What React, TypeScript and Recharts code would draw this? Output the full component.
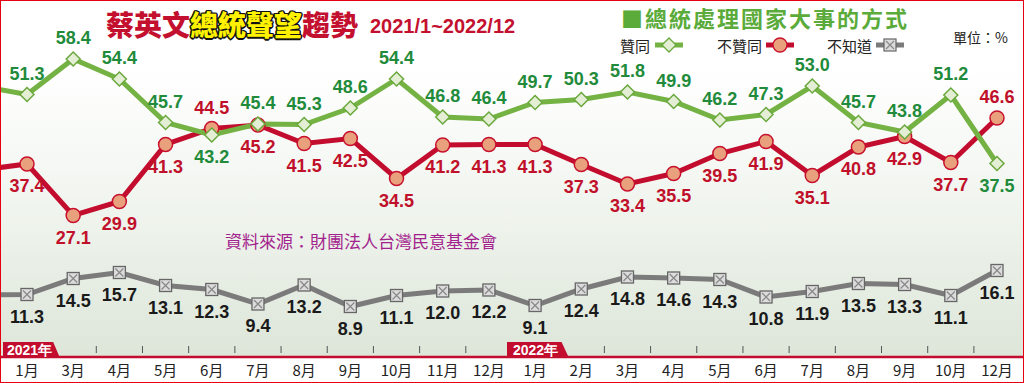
import React from 'react';
import { LineChart, Line, XAxis, YAxis, ReferenceLine } from 'recharts';

const months = ['1月', '3月', '4月', '5月', '6月', '7月', '8月', '9月', '10月', '11月', '12月', '1月', '2月', '3月', '4月', '5月', '6月', '7月', '8月', '9月', '10月', '12月'];
const approve = [51.3, 58.4, 54.4, 45.7, 43.2, 45.4, 45.3, 48.6, 54.4, 46.8, 46.4, 49.7, 50.3, 51.8, 49.9, 46.2, 47.3, 53.0, 45.7, 43.8, 51.2, 37.5];
const disapprove = [37.4, 27.1, 29.9, 41.3, 44.5, 45.2, 41.5, 42.5, 34.5, 41.2, 41.3, 41.3, 37.3, 33.4, 35.5, 39.5, 41.9, 35.1, 40.8, 42.9, 37.7, 46.6];
const unknown = [11.3, 14.5, 15.7, 13.1, 12.3, 9.4, 13.2, 8.9, 11.1, 12.0, 12.2, 9.1, 12.4, 14.8, 14.6, 14.3, 10.8, 11.9, 13.5, 13.3, 11.1, 16.1];
// previous month (off the left edge), only the line stub shows
const prevPoint = { approve: 53.0, disapprove: 36.2, unknown: 11.2 };

const data = [
  { i: -1, ...prevPoint },
  ...months.map((m, i) => ({ i, month: m, approve: approve[i], disapprove: disapprove[i], unknown: unknown[i] })),
];

const GREEN = '#74b243';
const RED = '#c30d2e';
const GRAY = '#7b7b7b';
const LABEL_FONT = '"Liberation Sans Narrow", "Liberation Sans", Arial, sans-serif';
const CJK = '"Noto Sans CJK TC", "Noto Sans CJK SC", sans-serif';

const Diamond = (p: any) => {
  if (p.payload?.i < 0) return <g key={p.key} />;
  const { cx, cy } = p;
  return (
    <polygon key={p.key} points={`${cx},${cy - 7} ${cx + 7},${cy} ${cx},${cy + 7} ${cx - 7},${cy}`}
      fill="#e3eed5" stroke="#6aa83c" strokeWidth={1.5} />
  );
};

const Circle = (p: any) => {
  if (p.payload?.i < 0) return <g key={p.key} />;
  return <circle key={p.key} cx={p.cx} cy={p.cy} r={7} fill="#e9a07c" stroke="#c8102e" strokeWidth={1.5} />;
};

const BoxX = (p: any) => {
  if (p.payload?.i < 0) return <g key={p.key} />;
  const { cx, cy } = p;
  return (
    <g key={p.key}>
      <rect x={cx - 6} y={cy - 6} width={12} height={12} fill="#dcdcdc" stroke="#666" strokeWidth={1.3} />
      <path d={`M${cx - 4},${cy - 4}L${cx + 4},${cy + 4}M${cx + 4},${cy - 4}L${cx - 4},${cy + 4}`} stroke="#888" strokeWidth={1.2} />
    </g>
  );
};

function makeLabel(color: string, isAbove: (i: number) => boolean) {
  return (p: any) => {
    const i = p.index - 1;
    if (i < 0) return null;
    const up = isAbove(i);
    return (
      <text key={`l${p.index}`} x={p.x} y={up ? p.y - 15 : p.y + 28} textAnchor="middle" fill={color}
        fontFamily={LABEL_FONT} fontWeight={700} fontSize={18}>
        {Number(p.value).toFixed(1)}
      </text>
    );
  };
}

const tagStyle: React.CSSProperties = {
  position: 'absolute', top: 342, height: 16, background: RED, color: '#fff',
  fontFamily: '"Liberation Sans", Arial, sans-serif', fontWeight: 700, fontSize: 14, lineHeight: '16px',
  boxSizing: 'border-box', whiteSpace: 'nowrap',
};

export default function App() {
  const midTicks = months.slice(1).map((_, i) => i + 0.5);
  return (
    <div style={{ position: 'relative', width: 1024, height: 383, overflow: 'hidden', background: '#fff' }}>
      <style>{'body{margin:0}'}</style>
      <div style={{ position: 'absolute', left: 0, top: 0, width: 1024, height: 357, background: 'linear-gradient(to bottom, #ffffff 0px, #ffffff 70px, #f1f5ef 200px, #dde6d9 357px)' }} />

      <div style={{ position: 'absolute', left: 0, top: 0 }}>
        <LineChart width={1024} height={383} data={data} margin={{ top: 1, right: 1, left: 1, bottom: 0 }}>
          <XAxis dataKey="i" type="number" domain={[-0.563, 21.563]} allowDataOverflow
            ticks={months.map((_, i) => i)} tickFormatter={(v: number) => months[v] ?? ''}
            interval={0} height={26} tickLine={false} tickSize={6} tickMargin={2}
            axisLine={{ stroke: RED, strokeWidth: 2.5 }}
            tick={{ fill: '#222', fontSize: 15, fontFamily: CJK }} />
          <YAxis hide domain={[-1.2, 70]} allowDataOverflow />
          {midTicks.map((x) => (
            <ReferenceLine key={x} segment={[{ x, y: -0.4 }, { x, y: 1.0 }]} stroke="#555" strokeWidth={1} />
          ))}
          <Line dataKey="unknown" stroke={GRAY} strokeWidth={5} isAnimationActive={false} dot={BoxX}
            activeDot={false} label={makeLabel('#1a1a1a', () => false)} />
          <Line dataKey="disapprove" stroke={RED} strokeWidth={5} isAnimationActive={false} dot={Circle}
            activeDot={false} label={makeLabel('#c0102a', (i) => disapprove[i] > approve[i])} />
          <Line dataKey="approve" stroke={GREEN} strokeWidth={5} isAnimationActive={false} dot={Diamond}
            activeDot={false} label={makeLabel('#1f8b3b', (i) => approve[i] >= disapprove[i])} />
        </LineChart>
      </div>

      {/* year tags */}
      <div style={{ ...tagStyle, left: 3, width: 57, paddingLeft: 4, clipPath: 'polygon(0 0, 88% 0, 100% 100%, 0 100%)' }}>2021年</div>
      <div style={{ ...tagStyle, left: 507, width: 62, paddingLeft: 6, clipPath: 'polygon(0 0, 88% 0, 100% 100%, 0 100%)' }}>2022年</div>

      {/* title */}
      <div style={{ position: 'absolute', left: 106, top: 6, fontFamily: CJK, fontWeight: 900, fontSize: 28, lineHeight: '36px', whiteSpace: 'nowrap', color: '#c4102f' }}>
        蔡英文<span style={{ color: '#fff200', textShadow: '-1px -1px 0 #111, 1px -1px 0 #111, -1px 1px 0 #111, 1px 1px 0 #111, 0 1.5px 0 #111, 0 -1.5px 0 #111, 1.5px 0 0 #111, -1.5px 0 0 #111' }}>總統聲望</span>趨勢
      </div>
      <div style={{ position: 'absolute', left: 370, top: 15, fontFamily: '"Liberation Sans", Arial, sans-serif', fontWeight: 700, fontSize: 20, color: '#c4102f', whiteSpace: 'nowrap' }}>2021/1~2022/12</div>

      <div style={{ position: 'absolute', left: 621, top: 1, fontFamily: CJK, fontWeight: 700, fontSize: 22, letterSpacing: 2, color: '#5bab3b', whiteSpace: 'nowrap' }}>■總統處理國家大事的方式</div>

      {/* legend */}
      <div style={{ position: 'absolute', left: 620, top: 35, height: 20, display: 'flex', alignItems: 'center', fontFamily: CJK, fontSize: 15, color: '#222', whiteSpace: 'nowrap' }}>
        <span>贊同</span>
        <svg width={32} height={18} style={{ marginLeft: 3 }}>
          <line x1={2} y1={9} x2={30} y2={9} stroke={GREEN} strokeWidth={5} />
          <polygon points="16,2 23,9 16,16 9,9" fill="#e3eed5" stroke="#6aa83c" strokeWidth={1.3} />
        </svg>
        <span style={{ marginLeft: 32 }}>不贊同</span>
        <svg width={32} height={18} style={{ marginLeft: 2 }}>
          <line x1={2} y1={9} x2={30} y2={9} stroke={RED} strokeWidth={5} />
          <circle cx={16} cy={9} r={7} fill="#e9a07c" stroke="#c8102e" strokeWidth={1.3} />
        </svg>
        <span style={{ marginLeft: 31 }}>不知道</span>
        <svg width={32} height={18} style={{ marginLeft: 2 }}>
          <line x1={2} y1={9} x2={30} y2={9} stroke={GRAY} strokeWidth={5} />
          <rect x={10} y={3} width={12} height={12} fill="#dcdcdc" stroke="#666" strokeWidth={1.2} />
          <path d="M12,5L20,13M20,5L12,13" stroke="#888" strokeWidth={1.1} />
        </svg>
      </div>
      <div style={{ position: 'absolute', left: 953, top: 27, fontFamily: CJK, fontSize: 14, color: '#222', whiteSpace: 'nowrap' }}>單位：%</div>

      <div style={{ position: 'absolute', left: 225, top: 228, fontFamily: CJK, fontSize: 17, color: '#a3238e', whiteSpace: 'nowrap', lineHeight: '26px' }}>資料來源：財團法人台灣民意基金會</div>

      <div style={{ position: 'absolute', left: 0, top: 0, width: 1024, height: 383, border: '1.5px solid #e60012', boxSizing: 'border-box', pointerEvents: 'none' }} />
    </div>
  );
}
